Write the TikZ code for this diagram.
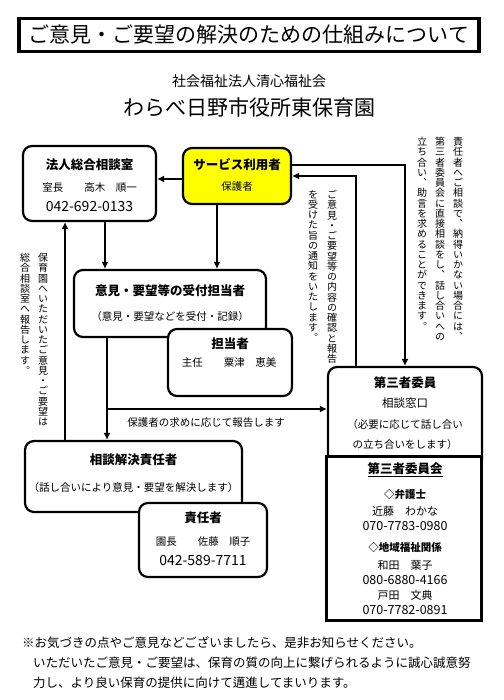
\documentclass[tikz,border=0pt]{standalone}
\usepackage{fontspec}
\setmainfont{Noto Sans CJK JP}
\newfontfamily\tatefont[RawFeature=+vert]{Noto Sans CJK JP}
\usetikzlibrary{arrows.meta, positioning, calc}
\definecolor{myYellow}{RGB}{255,255,0}

% vertical text: one glyph per line
\ExplSyntaxOn
\NewDocumentCommand\tate{m}{
  \vbox:n {
    \skip_set:Nn \baselineskip {1.025em}
    \dim_set:Nn \lineskiplimit {-\c_max_dim}
    \tl_map_inline:nn {#1} { \hbox_to_wd:nn {1em} { \hss ##1 \hss } }
  }
}
\ExplSyntaxOff

\begin{document}
\begin{tikzpicture}[x=1pt, y=-1pt,
    roundBox/.style={draw, line width=2.2pt, rounded corners=9pt, fill=white, inner sep=0pt},
    headText/.style={font=\fontsize{12.5}{14}\selectfont\bfseries, inner sep=0pt},
    bodyText/.style={font=\fontsize{10.5}{12}\selectfont, inner sep=0pt},
    telText/.style={font=\fontsize{14}{16}\selectfont, inner sep=0pt},
    noteText/.style={font=\fontsize{12.5}{14}\selectfont, inner sep=0pt, anchor=west},
    tateText/.style={font=\tatefont\fontsize{10}{10}\selectfont, anchor=north, inner sep=0pt},
    flowArrow/.style={-{Latex[length=7pt,width=7pt]}, line width=2.2pt}]
  \useasboundingbox (0,0) rectangle (503,700);

  % Title
  \node[draw, line width=3.5pt, minimum width=460pt, minimum height=33pt, inner sep=0pt,
        font=\fontsize{21}{23}\selectfont] (title) at (249,35) {ご意見・ご要望の解決のための仕組みについて};
  \node[font=\fontsize{14}{16}\selectfont, inner sep=0pt] (houjinMei) at (249,81) {社会福祉法人清心福祉会};
  \node[font=\fontsize{21}{23}\selectfont, inner sep=0pt] (enMei) at (249,108) {わらべ日野市役所東保育園};

  % Houjin soudan
  \node[roundBox, minimum width=133pt, minimum height=75pt] (hojin) at (89.5,183.5) {};
  \node[headText] (hojinTtl) at (89.5,165) {法人総合相談室};
  \node[bodyText] (hojinMei) at (89.5,188) {室長　　高木　順一};
  \node[telText] (hojinTel) at (89.5,207) {042-692-0133};

  % Riyousha
  \node[roundBox, fill=myYellow, minimum width=108pt, minimum height=56pt] (user) at (237,176) {};
  \node[headText] (userTtl) at (237,165) {サービス利用者};
  \node[bodyText] (userSub) at (237,187) {保護者};

  % Uketsuke
  \node[roundBox, minimum width=192pt, minimum height=67pt] (uketsuke) at (170,303.5) {};
  \node[headText] (uketsukeTtl) at (170,291) {意見・要望等の受付担当者};
  \node[bodyText] (uketsukeSub) at (170,317) {（意見・要望などを受付・記録）};
  \node[roundBox, minimum width=124pt, minimum height=67pt] (tanto) at (230,362.5) {};
  \node[headText] (tantoTtl) at (230,344) {担当者};
  \node[bodyText] (tantoMei) at (229,363) {主任　　粟津　恵美};

  % Kaiketsu sekininsha
  \node[roundBox, minimum width=217pt, minimum height=71pt] (kaiketsu) at (133.5,476.5) {};
  \node[headText] (kaiketsuTtl) at (133.5,460) {相談解決責任者};
  \node[bodyText] (kaiketsuSub) at (133.5,488) {（話し合いにより意見・要望を解決します）};
  \node[roundBox, minimum width=128pt, minimum height=74pt] (sekinin) at (203,540) {};
  \node[headText] (sekininTtl) at (203,518) {責任者};
  \node[bodyText] (sekininMei) at (203,542) {園長　　佐藤　順子};
  \node[telText] (sekininTel) at (203,561) {042-589-7711};

  % Daisansha iin
  \node[roundBox, minimum width=154pt, minimum height=102pt] (daisan) at (405,418) {};
  \node[headText] (daisanTtl) at (405,383) {第三者委員};
  \node[bodyText, font=\fontsize{11.5}{13}\selectfont] (daisanMado) at (405,403) {相談窓口};
  \node[bodyText] (daisanSub1) at (405,425) {（必要に応じて話し合い};
  \node[bodyText] (daisanSub2) at (405,445) {の立ち合いをします）};
  \node[draw, line width=3.2pt, fill=white, minimum width=155pt, minimum height=164pt] (iinkai) at (404,538.5) {};
  \node[headText] (iinkaiTtl) at (405,470) {\underline{第三者委員会}};
  \node[headText, font=\fontsize{10.5}{12}\selectfont\bfseries] (bengoshi) at (405,495) {◇弁護士};
  \node[bodyText, font=\fontsize{11}{13}\selectfont] (bengoshiMei) at (405,511) {近藤　わかな};
  \node[telText, font=\fontsize{12.5}{14}\selectfont] (bengoshiTel) at (405,526) {070-7783-0980};
  \node[headText, font=\fontsize{10.5}{12}\selectfont\bfseries] (chiiki) at (405,548) {◇地域福祉関係};
  \node[bodyText, font=\fontsize{11}{13}\selectfont] (chiikiMei1) at (405,565) {和田　葉子};
  \node[telText, font=\fontsize{12.5}{14}\selectfont] (chiikiTel1) at (405,580) {080-6880-4166};
  \node[bodyText, font=\fontsize{11}{13}\selectfont] (chiikiMei2) at (405,595) {戸田　文典};
  \node[telText, font=\fontsize{12.5}{14}\selectfont] (chiikiTel2) at (405,610) {070-7782-0891};

  % Connectors
  \draw[flowArrow] ([yshift=-3pt]user.west) -- ([yshift=-3pt]user.west -| hojin.east);
  \draw[flowArrow] ([yshift=11pt]user.east) -| (daisan.north);
  \draw[flowArrow] ([xshift=-49pt]daisan.north) |- (user.east);
  \draw[flowArrow] ([xshift=15.5pt]hojin.south) -- ([xshift=15.5pt]hojin.south |- uketsuke.north);
  \draw[flowArrow] ([xshift=-20pt]user.south) -- ([xshift=-20pt]user.south |- uketsuke.north);
  \draw[flowArrow] ([xshift=-68.5pt]kaiketsu.north) -- ([xshift=-68.5pt]kaiketsu.north |- hojin.south);
  \draw[flowArrow] ([xshift=-63pt]uketsuke.south) -- ([xshift=-63pt]uketsuke.south |- kaiketsu.north);
  \coordinate (bunki) at (107,409);
  \draw[flowArrow] (bunki) -- (bunki -| daisan.west);
  \node[bodyText] (houkoku) at (206,423) {保護者の求めに応じて報告します};

  % Vertical notes
  \node[tateText] (tateR1) at (458,137) {\tate{責任者へご相談で、納得いかない場合には、}};
  \node[tateText] (tateR2) at (440,137) {\tate{第三者委員会に直接相談をし、話し合いへの}};
  \node[tateText] (tateR3) at (422,137) {\tate{立ち合い、助言を求めることができます。}};
  \node[tateText] (tateM1) at (332,190) {\tate{ご意見・ご要望等の内容の確認と報告}};
  \node[tateText] (tateM2) at (313,190) {\tate{を受けた旨の通知をいたします。}};
  \node[tateText] (tateL1) at (43,253) {\tate{保育園へいただいたご意見・ご要望は}};
  \node[tateText] (tateL2) at (25,253) {\tate{総合相談室へ報告します。}};

  % Footer
  \node[noteText] (note1) at (22,643) {※お気づきの点やご意見などございましたら、是非お知らせください。};
  \node[noteText] (note2) at (33,663) {いただいたご意見・ご要望は、保育の質の向上に繋げられるように誠心誠意努};
  \node[noteText] (note3) at (33,683) {力し、より良い保育の提供に向けて邁進してまいります。};
\end{tikzpicture}
\end{document}
